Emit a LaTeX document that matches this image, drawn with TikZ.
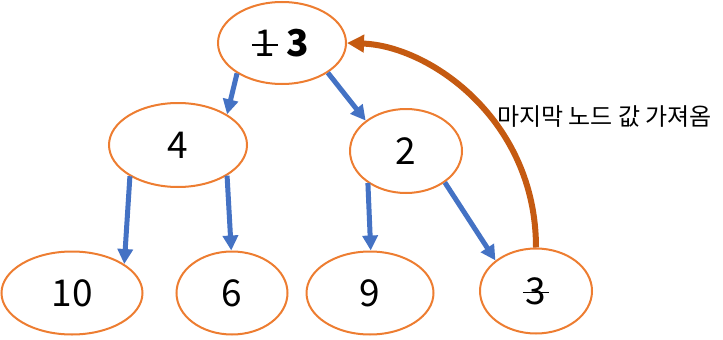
\documentclass[tikz,border=0pt]{standalone}
\usepackage{fontspec}
\setmainfont{Noto Sans CJK KR}
\usetikzlibrary{shapes.geometric,arrows.meta}
\definecolor{nodeorange}{HTML}{ED7D31}
\definecolor{edgeblue}{HTML}{4472C4}
\definecolor{arcorange}{HTML}{C55A11}
\newcommand{\strk}[1]{\setbox0\hbox{#1}\rlap{\kern-0.08em\rule[0.4\ht0]{\dimexpr\wd0+0.16em\relax}{1.8pt}}\box0\relax}
\tikzset{
  treenode/.style={ellipse, draw=nodeorange, line width=2pt, inner sep=0pt, font=\fontsize{37}{40}\selectfont},
  edge/.style={draw=edgeblue, line width=5pt, -{Triangle[length=15pt,width=15pt]}},
  backarc/.style={draw=arcorange, line width=6pt, -{Triangle[length=17pt,width=17pt]}},
  lbl/.style={font=\fontsize{24}{26}\selectfont, inner sep=0pt}
}
\begin{document}
\begin{tikzpicture}[x=1pt,y=-1pt]
\useasboundingbox (0,0) rectangle (723,340);
\node[treenode, minimum width=128pt, minimum height=82pt] (top) at (282,43) {\strk{1}\hspace{0.3em}\textbf{3}};
\node[treenode, minimum width=138pt, minimum height=84pt] (n4) at (178,145) {4};
\node[treenode, minimum width=112pt, minimum height=84pt] (n2) at (406,151) {2};
\node[treenode, minimum width=141pt, minimum height=83pt] (n10) at (72,293) {10};
\node[treenode, minimum width=111pt, minimum height=83pt] (n6) at (232,293) {6};
\node[treenode, minimum width=127pt, minimum height=83pt] (n9) at (370,293) {9};
\node[treenode, minimum width=112pt, minimum height=85pt] (n3) at (536,291) {\strk{3}};
\draw[edge] (top.214) -- (n4.32);
\draw[edge] (top.327) -- (n2.143);
\draw[edge] (n4.213) -- (n10.29);
\draw[edge] (n4.328) -- (n6.91);
\draw[edge] (n2.220) -- (n9.89);
\draw[edge] (n2.321) -- (n3.143);
\draw[backarc] (n3.90) .. controls (536,120) and (430,46) .. (top.0);
\node[lbl, anchor=west] (label) at (497,117) {마지막 노드 값 가져옴};
\end{tikzpicture}
\end{document}
